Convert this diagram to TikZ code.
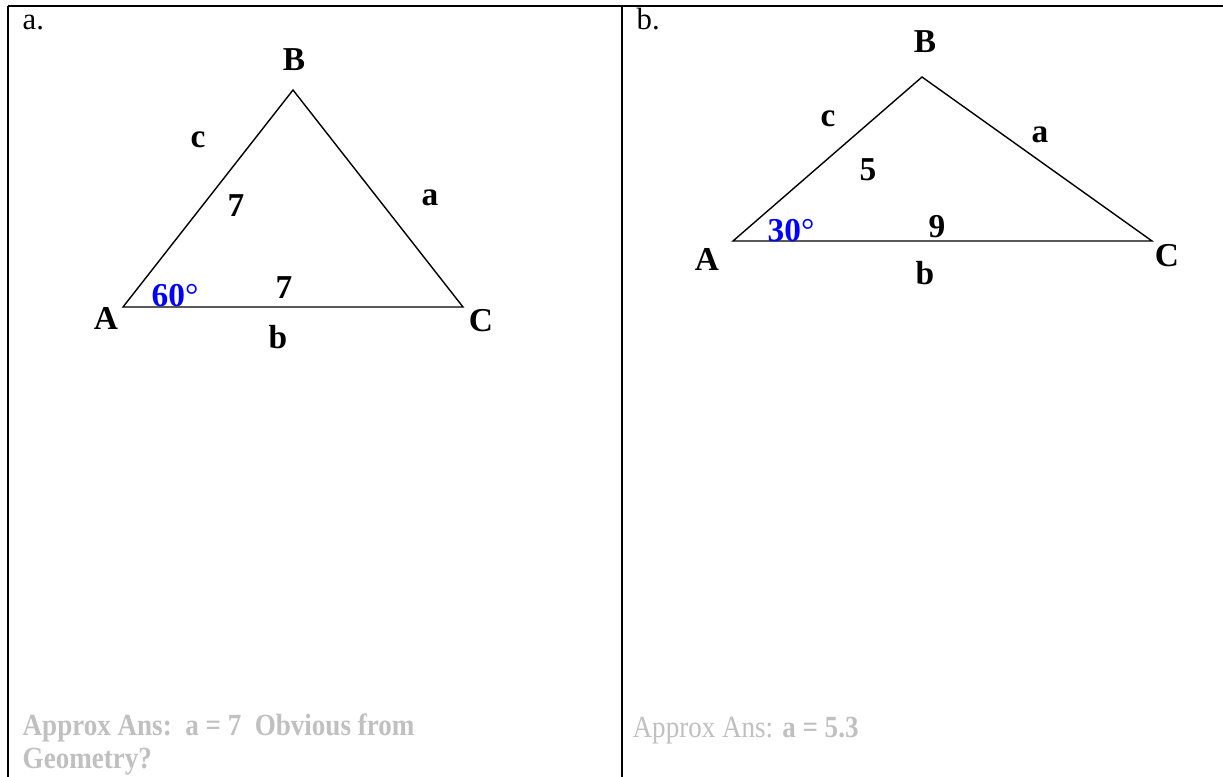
\documentclass[tikz,border=0pt]{standalone}
\usepackage{fontspec}
\setmainfont{Liberation Serif}
\definecolor{ansgray}{RGB}{192,192,192}
\newcommand{\narrow}[1]{\scalebox{0.88}[1]{#1}}
\tikzset{
  lbl/.style={inner sep=0pt,font=\fontsize{19}{22}\selectfont\bfseries},
  ang/.style={lbl,text=blue},
  ans/.style={inner sep=0pt,anchor=base west,text=ansgray,font=\fontsize{17.5}{21}\selectfont},
  tag/.style={inner sep=0pt,anchor=base west,font=\fontsize{17.5}{21}\selectfont}
}
\begin{document}
\begin{tikzpicture}[x=0.02cm,y=-0.02cm,line width=0.8pt]
			\useasboundingbox (0,0) rectangle (1223,777);
			% table lines
			\draw (8,6)--(1223,6) (8,6)--(8,777) (622,6)--(622,777);
			\node[tag] (ta) at (22,30) {a.};
			\node[tag] (tb) at (636,30) {b.};
			% triangle a
			\coordinate (A1) at (123,307);
			\coordinate (B1) at (293,90);
			\coordinate (C1) at (463,307);
			\draw (A1)--(B1)--(C1)--cycle;
			\node[lbl] (nB1) at (294,60) {B};
			\node[lbl] (nA1) at (106,318) {A};
			\node[lbl] (nC1) at (481,321) {C};
			\node[lbl] (sc1) at (198,140) {c};
			\node[lbl] (sa1) at (430,198) {a};
			\node[lbl] (sb1) at (278,337) {b};
			\node[lbl] (vc1) at (236,206) {7};
			\node[lbl] (vb1) at (284,288) {7};
			\node[ang] (ag1) at (175,296) {60\textmd{°}};
			% triangle b
			\coordinate (A2) at (733,241);
			\coordinate (B2) at (922,77);
			\coordinate (C2) at (1152,241);
			\draw (A2)--(B2)--(C2)--cycle;
			\node[lbl] (nB2) at (925,42) {B};
			\node[lbl] (nA2) at (707,259) {A};
			\node[lbl] (nC2) at (1167,256) {C};
			\node[lbl] (sc2) at (828,119) {c};
			\node[lbl] (sa2) at (1040,135) {a};
			\node[lbl] (sb2) at (925,273) {b};
			\node[lbl] (vc2) at (868,170) {5};
			\node[lbl] (vb2) at (937,227) {9};
			\node[ang] (ag2) at (791,231) {30\textmd{°}};
			% answers
			\node[ans] (ans1) at (22,735) {\narrow{\bfseries Approx Ans:\ \ a = 7\ \ Obvious from}};
			\node[ans] (ans1b) at (22,768) {\narrow{\bfseries Geometry?}};
			\node[ans] (ans2) at (632,737) {\narrow{Approx Ans: \textbf{a = 5.3}}};
		\end{tikzpicture}
\end{document}
